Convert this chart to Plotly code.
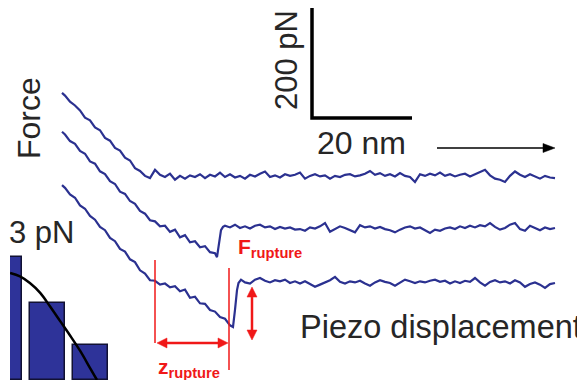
import plotly.graph_objects as go

# ---------------- data (x in nm, force in pN) ----------------
# main frame: 5 px per nm, 0.55 px per pN
X_RANGE = [0, 115.4]
Y_RANGE = [0, 690.9]
PX_PER_NM = 5.0
PX_PER_PN = 0.55

# vertical offsets (pN) used to stack the three force curves
BASELINES = [369.1, 276.4, 176.4]

C1_X = [12.4, 13, 14, 15, 16, 17, 18, 19, 20, 21, 22, 23, 24, 25, 26, 27, 28, 29,
        30, 31, 32, 33, 34, 35, 36, 37, 38, 39, 40, 41, 42, 43, 44, 45, 46, 47, 48, 49,
        50, 51, 52, 53, 54, 55, 56, 57, 58, 59, 60, 61, 62, 63, 64, 65, 66, 67, 68, 69,
        70, 71, 72, 73, 74, 75, 76, 77, 78, 79, 80, 81, 82, 83, 84, 85, 86, 87, 88, 89,
        90, 91, 92, 93, 94, 95, 96, 97, 98, 99, 100, 101, 102, 103, 104, 105, 106, 107,
        108, 109, 110, 111]
C1_F = [153, 148, 137, 130, 121, 108, 103, 90, 85, 71, 66, 53, 48, 35, 30, 16, 11, 2,
        -2, 13, 4, 0, 6, -5, 2, -3, 3, 0, 5, -2, 4, 1, 8, 0, 5, -1, 2, -3,
        4, 1, 6, 10, 0, 3, -1, 5, 2, 4, 8, -3, 2, 5, 1, 3, -3, 2, 0, 4,
        5, 1, 3, 6, 11, 4, 7, 2, 5, 1, 7, 2, 0, -9, 5, 2, 6, 3, 8, 2,
        5, 1, 4, 6, 1, 5, 9, 13, 3, -3, -5, -9, 2, 10, 4, 0, 5, 1,
        -3, 2, -1, -2]

C2_X = [12.4, 13, 14, 15, 16, 17, 18, 19, 20, 21, 22, 23, 24, 25, 26, 27, 28, 29,
        30, 31, 32, 33, 34, 35, 36, 37, 38, 39, 40, 41, 42, 43, 43.4, 43.8, 44.2, 44.6,
        45, 46, 47, 48, 49, 50, 51, 52, 53, 54, 55, 56, 57, 58, 59, 60, 61, 62, 63, 64,
        65, 66, 67, 68, 69, 70, 71, 72, 73, 74, 75, 76, 77, 78, 79, 80, 81, 82, 83, 84,
        85, 86, 87, 88, 89, 90, 91, 92, 93, 94, 95, 96, 97, 98, 99, 100, 101, 102, 103,
        104, 105, 106, 107, 108, 109, 110, 111]
C2_F = [175, 170, 158, 153, 140, 135, 121, 117, 103, 98, 85, 80, 66, 62, 49, 44, 31, 26,
        14, 12, 3, 4, -7, -3, -17, -13, -26, -24, -35, -33, -44, -46, -53, -27, -4, 2,
        4, 1, 6, 0, 3, -1, 4, 6, 1, 3, -2, 2, -1, 1, -3, -2, -5, 1, -1, 3,
        9, -7, -2, 3, 0, -4, -8, 5, 1, 3, -1, 2, -2, -4, -8, -3, 1, 3, -1, 1,
        -4, -9, -3, -5, -1, 1, -2, 3, 0, 4, 1, 5, 3, 9, 2, -3, 0, 6, 9,
        -2, -5, 4, 0, -4, 1, -2, 0]

C3_X = [12.4, 13, 14, 15, 16, 17, 18, 19, 20, 21, 22, 23, 24, 25, 26, 27, 28, 29,
        30, 31, 32, 33, 34, 35, 36, 37, 38, 39, 40, 41, 42, 43, 44, 45, 46, 46.6,
        47, 47.4, 47.7, 48.2,
        49, 50, 51, 52, 53, 54, 55, 56, 57, 58, 59, 60, 61, 62, 63, 64, 65, 66, 67, 68,
        69, 70, 71, 72, 73, 74, 75, 76, 77, 78, 79, 80, 81, 82, 83, 84, 85, 86, 87, 88,
        89, 90, 91, 92, 93, 94, 95, 96, 97, 98, 99, 100, 101, 102, 103, 104, 105, 106,
        107, 108, 109, 110, 111]
C3_F = [178, 173, 161, 155, 141, 135, 122, 115, 102, 96, 82, 76, 62, 57, 43, 38, 23, 17,
        5, 4, -3, -1, -8, -6, -15, -12, -27, -25, -37, -38, -49, -52, -62, -65, -77, -80,
        -49, -13, 0, 6,
        1, -1, 6, 9, 4, 1, 5, 3, 6, 0, 3, -1, 3, -2, -7, -3, 1, 5, 11, 2,
        -1, 3, 1, 4, -1, -5, 1, 5, 2, 0, -5, 1, 6, 3, 0, 3, 1, 4, 6, 2,
        4, -1, 3, 0, 4, 2, 9, 1, -5, 2, 5, 1, 3, -1, 5, 1, -7, -2,
        1, -3, -9, -2, 0]

# scale bar
SCALE_NM = 20
SCALE_PN = 200
SCALE_ORIGIN = (62.4, 476.4)

# inset histogram of rupture forces (bin index, counts) and its fit
HIST_BIN = [0, 1, 2]
HIST_COUNT = [35, 22, 10]
FIT_X = [0.13, 0.36, 0.59, 0.83, 1.06, 1.29, 1.52, 1.76, 1.99, 2.15]
FIT_Y = [30.6, 29.6, 27.7, 24.9, 21.0, 16.9, 12.8, 8.3, 3.4, 0.0]

# red markers: z_rupture span and F_rupture drop (nm / pN)
Z_LINE_LEFT = 31.0
Z_LINE_RIGHT = 45.8
Z_ARROW_Y = 67.3
F_ARROW_X = 50.4
F_ARROW_TOP = 169.0
F_ARROW_BOTTOM = 72.7
# direction arrow (nm / pN)
DIR_ARROW = (87.4, 111.0, 421.8)

CURVE_COLOR = "#2B3190"
BAR_COLOR = "#2E3399"
RED = "#F01818"
TEXT_COLOR = "#262626"
FONT = "Liberation Sans, Arial, sans-serif"

fig = go.Figure()

for xs, fs, base in zip([C1_X, C2_X, C3_X], [C1_F, C2_F, C3_F], BASELINES):
    fig.add_trace(go.Scatter(x=xs, y=[base + f for f in fs], mode="lines",
                             line=dict(color=CURVE_COLOR, width=2.2),
                             hoverinfo="skip", showlegend=False))

sx, sy = SCALE_ORIGIN
fig.add_trace(go.Scatter(x=[sx, sx, sx + SCALE_NM], y=[sy + SCALE_PN, sy, sy],
                         mode="lines", line=dict(color="black", width=3.5),
                         hoverinfo="skip", showlegend=False))

fig.add_trace(go.Bar(x=HIST_BIN, y=HIST_COUNT, width=0.814,
                     marker=dict(color=BAR_COLOR, line=dict(color="#111133", width=1.5)),
                     xaxis="x2", yaxis="y2", hoverinfo="skip", showlegend=False))
fig.add_trace(go.Scatter(x=FIT_X, y=FIT_Y, mode="lines", line=dict(color="black", width=2.5, shape="spline"),
                         xaxis="x2", yaxis="y2", hoverinfo="skip", showlegend=False))

# red guide lines
fig.add_shape(type="line", x0=Z_LINE_LEFT, x1=Z_LINE_LEFT, y0=218.2, y1=67.3,
              line=dict(color=RED, width=1.5))
fig.add_shape(type="line", x0=Z_LINE_RIGHT, x1=Z_LINE_RIGHT, y0=203.6, y1=18.2,
              line=dict(color=RED, width=1.5))


def head(tx, ty, direction, length_px, half_px, color):
    """filled arrowhead with its tip at (tx, ty); returns base centre"""
    if direction in ("left", "right"):
        s = -1 if direction == "right" else 1
        bx = tx + s * length_px / PX_PER_NM
        dy = half_px / PX_PER_PN
        path = f"M{tx},{ty} L{bx},{ty + dy} L{bx},{ty - dy} Z"
        base = (bx, ty)
    else:
        s = -1 if direction == "up" else 1
        by = ty + s * length_px / PX_PER_PN
        dx = half_px / PX_PER_NM
        path = f"M{tx},{ty} L{tx + dx},{by} L{tx - dx},{by} Z"
        base = (tx, by)
    fig.add_shape(type="path", path=path, xref="x", yref="y",
                  fillcolor=color, line=dict(color=color, width=0.5))
    return base


# horizontal z_rupture double arrow
b1 = head(Z_LINE_LEFT + 0.4, Z_ARROW_Y, "left", 10, 5, RED)
b2 = head(Z_LINE_RIGHT - 0.2, Z_ARROW_Y, "right", 10, 5, RED)
fig.add_shape(type="line", x0=b1[0], x1=b2[0], y0=Z_ARROW_Y, y1=Z_ARROW_Y,
              line=dict(color=RED, width=2.5))
# vertical F_rupture double arrow
b3 = head(F_ARROW_X, F_ARROW_TOP, "up", 10, 5, RED)
b4 = head(F_ARROW_X, F_ARROW_BOTTOM, "down", 10, 5, RED)
fig.add_shape(type="line", x0=F_ARROW_X, x1=F_ARROW_X, y0=b3[1], y1=b4[1],
              line=dict(color=RED, width=2.5))
# black direction arrow
ax0, ax1, ay = DIR_ARROW
b5 = head(ax1, ay, "right", 12, 4.5, "black")
fig.add_shape(type="line", x0=ax0, x1=b5[0], y0=ay, y1=ay, line=dict(color="black", width=1.6))


def ptext(txt, px, py, size, xanchor="center", yanchor="middle", angle=0, color=TEXT_COLOR, bold=False):
    return dict(text=txt, x=px / 577, y=1 - py / 380, xref="paper", yref="paper",
                xanchor=xanchor, yanchor=yanchor, textangle=angle, showarrow=False,
                font=dict(family=FONT, size=size, color=color, weight="bold" if bold else "normal"))


annotations = [
    ptext("Force", 29, 118, 32, angle=-90),
    ptext("200 pN", 286, 60, 31, angle=-90),
    ptext("20 nm", 361, 143, 32),
    ptext("3 pN", 76, 232, 31, xanchor="right"),
    ptext("Piezo displacement", 298, 327, 32.5, xanchor="left"),
    ptext("F<sub>rupture</sub>", 236, 248, 21, xanchor="left", color=RED, bold=True),
    ptext("z<sub>rupture</sub>", 156, 368, 21, xanchor="left", color=RED, bold=True),
]

fig.update_layout(
    width=577, height=380,
    margin=dict(l=0, r=0, t=0, b=0),
    paper_bgcolor="white", plot_bgcolor="rgba(0,0,0,0)",
    showlegend=False,
    xaxis=dict(range=X_RANGE, visible=False, domain=[0, 1]),
    yaxis=dict(range=Y_RANGE, visible=False, domain=[0, 1]),
    xaxis2=dict(range=[0.128, 2.453], visible=False, domain=[10 / 577, 110 / 577], anchor="y2"),
    yaxis2=dict(range=[0, 37.14], visible=False, domain=[0, 130 / 380], anchor="x2"),
    annotations=annotations,
    bargap=0,
)

fig.write_html("out.html")
